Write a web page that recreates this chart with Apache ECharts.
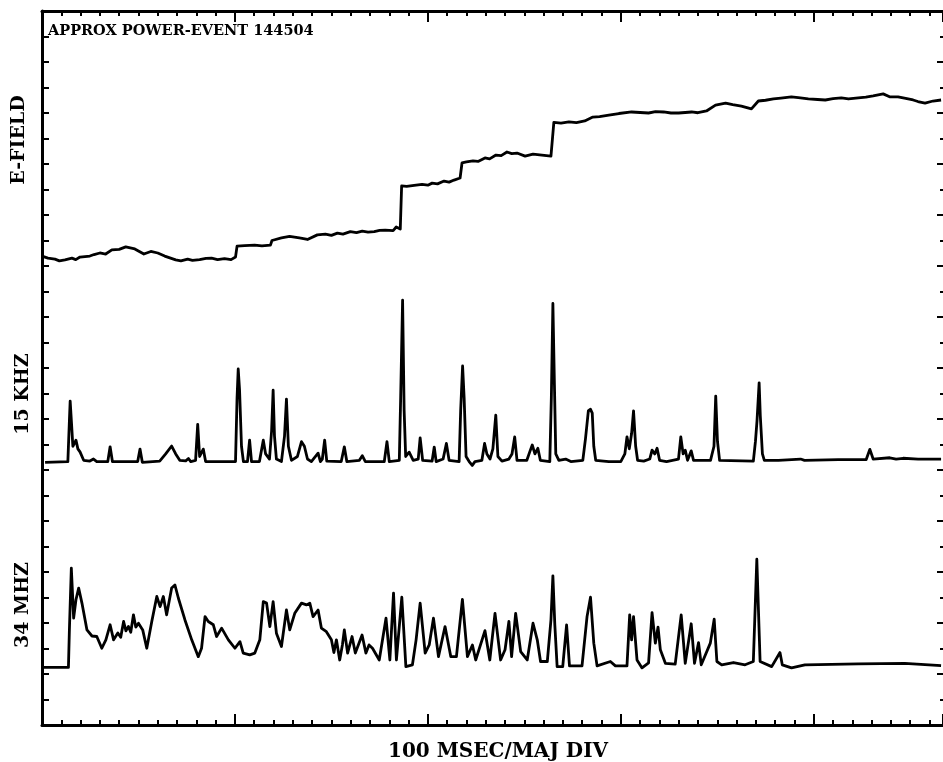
<!DOCTYPE html>
<html>
<head>
<meta charset="utf-8">
<script src="https://cdn.jsdelivr.net/npm/echarts@6/dist/echarts.min.js"></script>
<style>
  html, body { margin: 0; padding: 0; background: #fff; }
  #chart { width: 943px; height: 762px; }
</style>
</head>
<body>
<div id="chart"></div>
<script>
// time in ms (100 ms per major division), values in vertical divisions
const eField = [
  [0, 0.39], [3.1, 0.31], [6.7, 0.27], [9.0, 0.20], [11.9, 0.24], [15.5, 0.31], [17.5, 0.25],
  [19.7, 0.35], [24.8, 0.39], [27.0, 0.45], [30.0, 0.51], [33.0, 0.47], [36.2, 0.63],
  [40.0, 0.65], [43.4, 0.75], [48.1, 0.67], [52.8, 0.47], [56.4, 0.57], [60.0, 0.51],
  [63.6, 0.39], [69.3, 0.24], [72.0, 0.20], [75.5, 0.27], [78.0, 0.22], [81.7, 0.25],
  [85.0, 0.30], [87.9, 0.31], [91.0, 0.25], [94.6, 0.29], [98.0, 0.25], [100.3, 0.35],
  [101.1, 0.78], [105.0, 0.80], [110.2, 0.82], [114.0, 0.79], [118.4, 0.82], [119.2, 1.00],
  [124.1, 1.10], [128.3, 1.16], [133.4, 1.10], [137.6, 1.04], [142.7, 1.22], [146.9, 1.25],
  [150.0, 1.20], [153.1, 1.29], [156.0, 1.25], [159.8, 1.35], [163.0, 1.31], [166.0, 1.37],
  [169.0, 1.33], [172.2, 1.35], [175.0, 1.40], [177.9, 1.41], [182.0, 1.39], [183.6, 1.53],
  [185.7, 1.45], [186.4, 3.14], [189.0, 3.12], [192.9, 3.16], [197.0, 3.20], [200.0, 3.17],
  [202.2, 3.25], [205.0, 3.22], [208.4, 3.33], [211.0, 3.29], [213.6, 3.37], [216.7, 3.45],
  [217.7, 4.04], [220.0, 4.08], [223.4, 4.12], [226.0, 4.10], [229.6, 4.24], [232.0, 4.20],
  [235.3, 4.35], [238.0, 4.33], [241.0, 4.47], [243.5, 4.41], [246.2, 4.43], [250.4, 4.31],
  [254.5, 4.39], [259.1, 4.35], [263.8, 4.31], [265.3, 5.63], [269.0, 5.60], [273.1, 5.65],
  [277.0, 5.62], [281.3, 5.69], [285.5, 5.84], [289.0, 5.86], [293.8, 5.92], [299.0, 5.98],
  [305.6, 6.04], [310.0, 6.02], [314.4, 6.00], [318.0, 6.05], [322.2, 6.04], [326.0, 6.00],
  [330.0, 6.00], [336.7, 6.04], [340.0, 6.01], [344.4, 6.08], [349.1, 6.31], [354.3, 6.39],
  [358.0, 6.33], [362.5, 6.27], [367.7, 6.16], [371.3, 6.47], [375.0, 6.50], [379.1, 6.55],
  [383.0, 6.58], [388.4, 6.63], [392.0, 6.60], [397.2, 6.55], [402.0, 6.53], [406.0, 6.51],
  [410.0, 6.56], [414.3, 6.59], [418.0, 6.55], [423.1, 6.59], [427.0, 6.62], [430.8, 6.67],
  [436.0, 6.75], [439.6, 6.63], [443.7, 6.63], [447.0, 6.58], [451.5, 6.51], [454.0, 6.45],
  [457.7, 6.39], [461.8, 6.47], [466.0, 6.51]
];

const khz15 = [
  [1.6, -0.03], [13.4, 0], [14.2, 1.6], [14.6, 2.37], [15.3, 1.5], [16.0, 0.6], [17.6, 0.84],
  [18.6, 0.5], [19.7, 0.38], [21.6, 0.05], [24.8, 0.02], [26.7, 0.1], [28.4, 0], [34.1, 0],
  [35.3, 0.58], [36.5, 0], [49.6, 0], [50.8, 0.49], [52.0, -0.03], [61.0, 0.02], [64.1, 0.3],
  [67.2, 0.61], [69.3, 0.3], [71.4, 0.05], [74.5, 0.03], [75.9, 0.12], [77.1, 0], [79.6, 0.05],
  [80.7, 1.46], [81.7, 0.2], [83.6, 0.49], [84.8, 0], [100.3, 0], [101.1, 2.5], [101.7, 3.63],
  [102.4, 2.8], [103.4, 0.6], [104.4, 0], [106.5, 0], [107.6, 0.84], [108.6, 0], [112.7, 0],
  [114.7, 0.84], [115.9, 0.3], [117.9, 0.1], [119.0, 1.2], [119.8, 2.8], [120.5, 1.0],
  [121.5, 0.1], [124.1, 0], [125.7, 1.0], [126.7, 2.45], [127.7, 0.6], [129.3, 0.05],
  [132.4, 0.2], [134.5, 0.78], [136.0, 0.6], [137.6, 0.1], [139.6, 0], [143.1, 0.33],
  [144.3, 0], [145.3, 0.1], [146.5, 0.84], [147.6, 0.02], [155.1, 0], [156.7, 0.58],
  [158.0, 0], [164.5, 0.05], [166.0, 0.23], [167.6, 0], [177.4, 0], [178.8, 0.78], [180.0, 0],
  [185.2, 0.05], [185.9, 2.5], [186.9, 6.33], [187.7, 2.0], [188.5, 0.2], [190.3, 0.37],
  [192.4, 0.05], [195.0, 0.1], [196.0, 0.93], [197.3, 0.05], [202.2, 0.02], [203.3, 0.57],
  [204.3, 0], [207.9, 0.1], [209.6, 0.71], [211.0, 0.05], [216.2, 0], [217.0, 2.0],
  [218.0, 3.75], [218.8, 2.5], [219.8, 0.2], [221.4, 0], [223.0, -0.15], [224.4, 0],
  [228.0, 0.05], [229.4, 0.71], [230.6, 0.3], [232.2, 0.1], [233.7, 0.5], [235.2, 1.82],
  [236.3, 0.2], [238.4, 0.02], [242.0, 0.1], [243.6, 0.3], [245.0, 0.97], [246.2, 0.05],
  [251.3, 0.05], [252.9, 0.4], [254.1, 0.65], [255.5, 0.3], [257.0, 0.52], [258.3, 0.05],
  [263.2, 0], [264.0, 2.5], [264.8, 6.2], [265.6, 3.0], [266.3, 0.3], [267.9, 0.05],
  [271.4, 0.1], [274.1, 0], [280.3, 0.05], [281.7, 0.9], [283.2, 2.0], [284.3, 2.05],
  [285.2, 1.9], [286.0, 0.6], [287.0, 0.05], [293.8, 0], [300.0, 0], [302.1, 0.3],
  [303.2, 0.97], [304.4, 0.5], [305.6, 1.1], [306.6, 1.99], [307.7, 0.6], [308.7, 0.05],
  [311.9, 0.02], [315.0, 0.1], [316.2, 0.45], [317.6, 0.3], [318.8, 0.52], [320.1, 0.05],
  [323.7, 0], [329.9, 0.1], [331.1, 0.97], [332.3, 0.3], [333.4, 0.45], [334.6, 0.05],
  [335.4, 0.1], [336.5, 0.42], [337.7, 0.05], [346.5, 0.05], [348.3, 0.6], [349.2, 2.57],
  [350.1, 0.8], [351.2, 0.05], [368.7, 0.02], [369.8, 0.8], [370.6, 1.6], [371.7, 3.09],
  [372.3, 1.8], [373.4, 0.3], [374.4, 0.05], [381.7, 0.05], [393.2, 0.1], [395.2, 0.05],
  [412.7, 0.08], [427.2, 0.08], [429.1, 0.48], [430.8, 0.1], [439.4, 0.15], [442.7, 0.1],
  [446.3, 0.13], [454.1, 0.1], [466.0, 0.1]
];

const mhz34 = [
  [0, 0.02], [13.7, 0.02], [14.2, 1.49], [15.2, 3.91], [16.4, 1.95], [17.6, 2.67], [19.0, 3.13],
  [20.7, 2.54], [23.3, 1.49], [25.9, 1.25], [28.4, 1.23], [31.0, 0.77], [33.1, 1.10],
  [35.3, 1.69], [37.1, 1.10], [39.3, 1.37], [40.8, 1.20], [42.3, 1.82], [43.5, 1.45],
  [44.8, 1.62], [46.0, 1.40], [47.4, 2.08], [48.6, 1.60], [50.0, 1.75], [52.2, 1.49],
  [54.3, 0.77], [56.9, 1.82], [59.5, 2.80], [61.2, 2.40], [62.9, 2.80], [64.6, 2.08],
  [67.2, 3.13], [68.9, 3.25], [70.7, 2.73], [74.1, 1.88], [77.6, 1.10], [81.0, 0.44],
  [82.7, 0.77], [84.5, 2.01], [86.2, 1.82], [88.8, 1.69], [90.5, 1.23], [93.1, 1.56],
  [96.6, 1.10], [100.0, 0.77], [102.6, 1.03], [104.3, 0.58], [107.7, 0.51], [110.3, 0.58],
  [112.9, 1.10], [114.7, 2.60], [116.4, 2.54], [118.1, 1.62], [119.8, 2.60], [121.5, 1.36],
  [124.1, 0.84], [126.7, 2.27], [128.4, 1.49], [131.0, 2.14], [134.5, 2.54], [137.1, 2.47],
  [138.8, 2.54], [140.5, 2.01], [143.1, 2.27], [144.8, 1.56], [147.4, 1.42], [150.0, 1.10],
  [151.3, 0.60], [152.6, 1.10], [154.3, 0.31], [155.7, 0.90], [156.7, 1.49], [158.4, 0.58],
  [160.7, 1.23], [162.4, 0.58], [165.9, 1.29], [167.9, 0.58], [169.5, 0.90], [171.3, 0.77],
  [174.8, 0.31], [178.3, 1.95], [180.3, 0.31], [182.2, 2.93], [183.7, 0.31], [186.5, 2.77],
  [188.6, 0.05], [192.0, 0.12], [193.9, 1.10], [196.0, 2.54], [198.6, 0.58], [200.7, 0.90],
  [202.9, 1.95], [205.5, 0.44], [208.9, 1.62], [211.9, 0.44], [214.8, 0.44], [217.9, 2.69],
  [220.5, 0.44], [223.1, 0.90], [224.8, 0.31], [229.6, 1.46], [232.1, 0.31], [234.8, 2.14],
  [237.7, 0.31], [240.0, 0.71], [242.0, 1.82], [243.4, 0.44], [245.5, 2.14], [248.1, 0.64],
  [251.5, 0.31], [254.5, 1.75], [256.7, 1.10], [258.4, 0.25], [261.9, 0.25], [263.8, 1.88],
  [264.8, 3.61], [265.8, 1.69], [267.0, 0.05], [269.9, 0.05], [271.9, 1.69], [273.4, 0.08],
  [279.9, 0.08], [282.5, 2.01], [284.3, 2.77], [286.0, 0.97], [287.7, 0.08], [294.6, 0.25],
  [297.2, 0.08], [303.2, 0.08], [304.6, 2.08], [305.6, 1.10], [306.6, 2.01], [308.4, 0.31],
  [311.0, 0], [314.4, 0.2], [316.2, 2.17], [317.9, 0.97], [319.3, 1.60], [320.5, 0.71],
  [323.1, 0.18], [328.2, 0.15], [331.3, 2.08], [333.4, 0.18], [336.5, 1.73], [338.2, 0.18],
  [340.3, 0.99], [341.7, 0.12], [346.4, 0.97], [348.4, 1.91], [349.8, 0.25], [352.3, 0.12],
  [358.4, 0.21], [364.4, 0.12], [368.7, 0.25], [370.5, 4.26], [372.2, 0.25], [378.2, 0.05],
  [382.5, 0.60], [383.7, 0.12], [388.5, 0], [395.4, 0.12], [423.0, 0.16], [447.2, 0.18],
  [466.0, 0.09]
];

const titleText = 'APPROX POWER-EVENT 144504';
const xAxisText = '100 MSEC/MAJ DIV';
const traceNames = ['E-FIELD', '15 KHZ', '34 MHZ'];

const chart = echarts.init(document.getElementById('chart'));
const ink = '#000';
const font = '"DejaVu Serif", serif';

function frameX(pos, interval, len, showLine) {
  return {
    type: 'value', position: pos, min: 0, max: 467, interval: interval,
    axisLine: { show: showLine, onZero: false, lineStyle: { color: ink, width: 3 } },
    axisTick: { show: true, inside: true, length: len, lineStyle: { color: ink, width: 2 } },
    axisLabel: { show: false }, splitLine: { show: false }
  };
}
function frameY(pos, interval, len, showLine) {
  return {
    type: 'value', position: pos, min: 0, max: 28, interval: interval,
    axisLine: { show: showLine, onZero: false, lineStyle: { color: ink, width: 3 } },
    axisTick: { show: true, inside: true, length: len, lineStyle: { color: ink, width: 2 } },
    axisLabel: { show: false }, splitLine: { show: false }
  };
}
function hiddenY(min, max) {
  return { type: 'value', min: min, max: max, show: false, axisLine: { onZero: false }, splitLine: { show: false } };
}
function trace(name, data, yIdx) {
  return {
    name: name, type: 'line', data: data, xAxisIndex: 0, yAxisIndex: yIdx,
    showSymbol: false, symbol: 'none', silent: true,
    lineStyle: { color: ink, width: 2.8, join: 'round' }
  };
}

chart.setOption({
  animation: false,
  backgroundColor: '#fff',
  grid: { left: 42, right: -2, top: 11, bottom: 37 },
  xAxis: [
    frameX('bottom', 10, 5, true),
    frameX('bottom', 100, 11, false),
    frameX('top', 10, 5, true),
    frameX('top', 100, 11, false)
  ],
  yAxis: [
    frameY('left', 1, 7, true),
    frameY('right', 1, 3, false),
    frameY('right', 2, 6, false),
    hiddenY(-18, 10),
    hiddenY(-10.33, 17.67),
    hiddenY(-2.24, 25.76)
  ],
  series: [
    trace(traceNames[0], eField, 3),
    trace(traceNames[1], khz15, 4),
    trace(traceNames[2], mhz34, 5)
  ],
  graphic: [
    { type: 'text', left: 48, top: 24,
      style: { text: titleText, font: 'bold 14.5px ' + font, fill: ink } },
    { type: 'text', x: 498, y: 752,
      style: { text: xAxisText, font: 'bold 20px ' + font, fill: ink, align: 'center', verticalAlign: 'middle' } },
    { type: 'text', x: 19, y: 140, rotation: Math.PI / 2,
      style: { text: traceNames[0], font: 'bold 19px ' + font, fill: ink, align: 'center', verticalAlign: 'middle' } },
    { type: 'text', x: 23, y: 394, rotation: Math.PI / 2,
      style: { text: traceNames[1], font: 'bold 19px ' + font, fill: ink, align: 'center', verticalAlign: 'middle' } },
    { type: 'text', x: 23, y: 605, rotation: Math.PI / 2,
      style: { text: traceNames[2], font: 'bold 19px ' + font, fill: ink, align: 'center', verticalAlign: 'middle' } }
  ]
});
</script>
</body>
</html>
